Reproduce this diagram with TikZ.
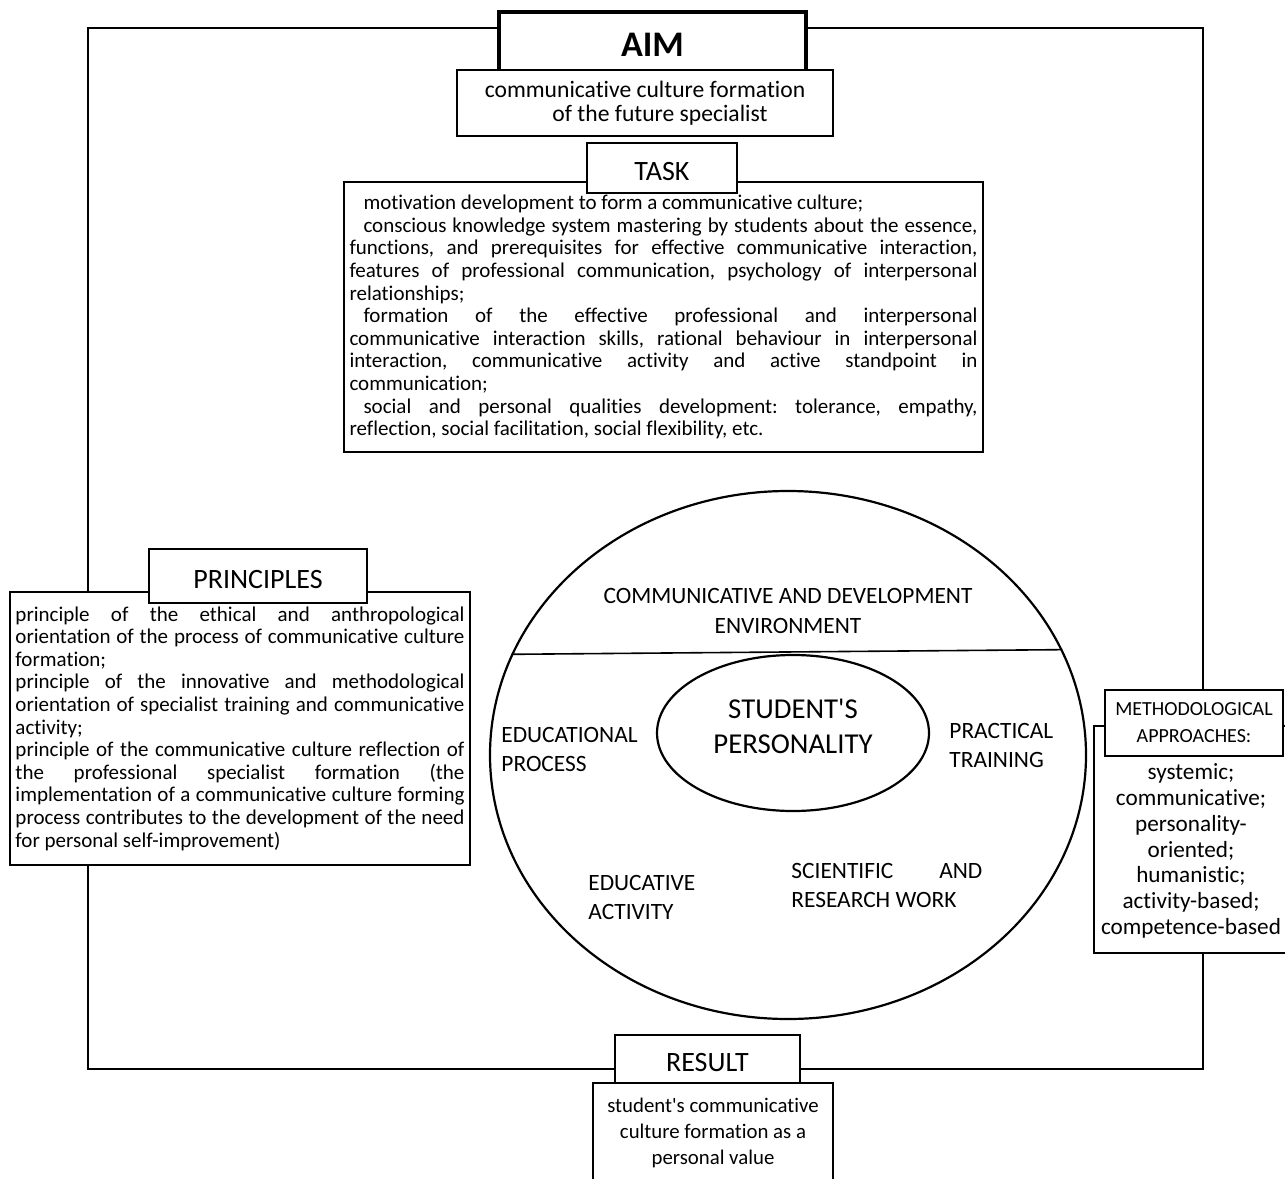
\documentclass[tikz,border=0pt]{standalone}
\usepackage{fontspec}
\setmainfont{Carlito}[Ligatures={TeXOff,CommonOff}]
\usetikzlibrary{shapes.geometric}
\setlength{\parindent}{0pt}
\frenchspacing

\begin{document}
\begin{tikzpicture}[x=0.5pt,y=-0.5pt,line join=miter,
    box/.style={draw,fill=white,line width=1.25pt,inner sep=0pt},
    head/.style={box,font=\fontsize{14}{16}\selectfont,text height=12.5pt,text depth=0pt},
    para/.style={box,align=justify,inner xsep=2.75pt,font=\fontsize{10.5}{11.3}\selectfont},
    sector/.style={inner sep=0pt,align=left,font=\fontsize{11.7}{14.5}\selectfont}]
    % fix the page size
    \useasboundingbox (0,0) rectangle (1285,1178);

    % draw the outer frame
    \coordinate (frameNW) at (88,28);
    \coordinate (frameSE) at (1203,1069);
    \draw[line width=1.25pt] (frameNW) rectangle (frameSE);

    % draw the environment ellipse and the student in it
    \node[draw,ellipse,line width=1.1pt,minimum width=298pt,minimum height=264pt,inner sep=0pt] (env) at (788,755) {};
    \draw[line width=0.8pt] (env.160) -- (env.21);
    \node[draw,ellipse,line width=1.1pt,minimum width=136pt,minimum height=78pt,inner sep=0pt] (person) at (793,733) {};
    \node[align=center,inner sep=0pt,font=\fontsize{14.4}{17.5}\selectfont] (personLabel) at (793,726) {STUDENT'S\\PERSONALITY};
    \node[sector,align=center,font=\fontsize{11.7}{15}\selectfont] (envLabel) at (788,611) {COMMUNICATIVE AND DEVELOPMENT\\ENVIRONMENT};

    % the parts of the environment
    \foreach \name/\px/\py/\txt in {
      eduProcess/501/749/{EDUCATIONAL\\PROCESS},
      practice/949/745/{PRACTICAL\\TRAINING},
      educative/588/897/{EDUCATIVE\\ACTIVITY}}
      \node[sector,anchor=west] (\name) at (\px,\py) {\txt};
    \node[sector,anchor=west,align=justify,text width=95.5pt] (research) at (791,885) {SCIENTIFIC AND\linebreak RESEARCH WORK};

    % aim
    \node[box,line width=2pt,minimum width=153.5pt,minimum height=33pt,font=\fontsize{18}{20}\selectfont\bfseries] (aim) at (652.5,45) {AIM};
    \node[box,align=center,minimum width=188pt,minimum height=33pt,font=\fontsize{11.8}{12}\selectfont] (aimText) at (645,103) {communicative culture formation\\\hspace*{15pt}of the future specialist};

    % task
    \node[para,text width=314pt,minimum height=135pt] (taskText) at (663.5,317) {\hspace*{7pt}motivation development to form a communicative culture;\par
      \hspace*{7pt}conscious knowledge system mastering by students about the essence,\linebreak
      functions, and prerequisites for effective communicative interaction,\linebreak
      features of professional communication, psychology of interpersonal\linebreak
      relationships;\par
      \hspace*{7pt}formation of the effective professional and interpersonal\linebreak
      communicative interaction skills, rational behaviour in interpersonal\linebreak
      interaction, communicative activity and active standpoint in\linebreak
      communication;\par
      \hspace*{7pt}social and personal qualities development: tolerance, empathy,\linebreak
      reflection, social facilitation, social flexibility, etc.};
    \node[head,minimum width=75pt,minimum height=25pt] (task) at (662,168) {TASK};

    % principles
    \node[para,text width=224.5pt,minimum height=136.5pt] (principlesText) at (240,728.5) {principle of the ethical and anthropological\linebreak
      orientation of the process of communicative culture\linebreak
      formation;\par
      principle of the innovative and methodological\linebreak
      orientation of specialist training and communicative\linebreak
      activity;\par
      principle of the communicative culture reflection of\linebreak
      the professional specialist formation (the\linebreak
      implementation of a communicative culture forming\linebreak
      process contributes to the development of the need\linebreak
      for personal self-improvement)};
    \node[head,minimum width=109pt,minimum height=27pt] (principles) at (258,576) {PRINCIPLES};

    % methodological approaches
    \node[box,minimum width=98pt,minimum height=113.5pt] (approaches) at (1192,839.5) {};
    \node[align=center,inner sep=0pt,font=\fontsize{11.6}{12.9}\selectfont] (approachList) at (1191,851) {systemic;\\communicative;\\personality-\\oriented;\\humanistic;\\activity-based;\\competence-based};
    \node[box,align=center,minimum width=89pt,minimum height=33pt,font=\fontsize{10}{13.5}\selectfont] (approachesHead) at (1194,723) {METHODOLOGICAL\\APPROACHES:};

    % result
    \node[box,align=center,minimum width=120pt,minimum height=50pt,font=\fontsize{10.4}{13}\selectfont] (resultText) at (713,1133) {student's communicative\\culture formation as a\\personal value};
    \node[head,minimum width=92.5pt,minimum height=24pt] (result) at (707.5,1059) {RESULT};
\end{tikzpicture}
\end{document}
